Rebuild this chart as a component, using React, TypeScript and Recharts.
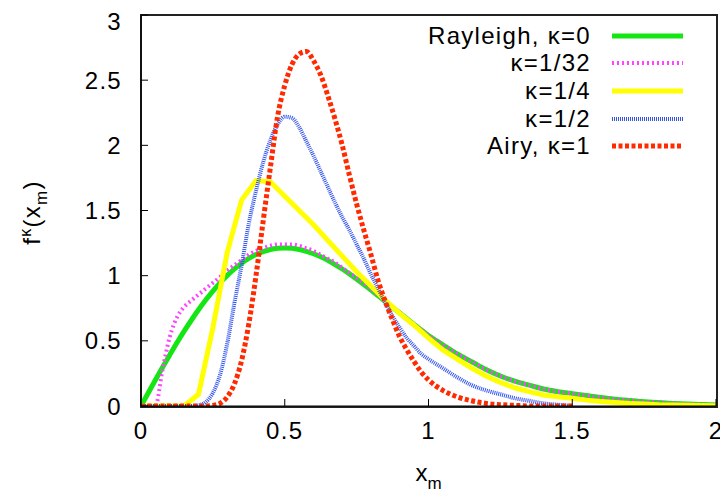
import React from 'react';
import { LineChart, Line, XAxis, YAxis, Label } from 'recharts';

// x grid for the smooth curves: 0.025 steps up to 1, then 0.05 steps
const xFine = [
  0, 0.025, 0.05, 0.075, 0.1, 0.125, 0.15, 0.175, 0.2, 0.225, 0.25, 0.275, 0.3, 0.325, 0.35, 0.375,
  0.4, 0.425, 0.45, 0.475, 0.5, 0.525, 0.55, 0.575, 0.6, 0.625, 0.65, 0.675, 0.7, 0.725, 0.75, 0.775,
  0.8, 0.825, 0.85, 0.875, 0.9, 0.925, 0.95, 0.975, 1.0,
  1.05, 1.1, 1.15, 1.2, 1.25, 1.3, 1.35, 1.4, 1.45, 1.5, 1.55, 1.6, 1.65, 1.7, 1.75, 1.8, 1.85, 1.9, 1.95, 2.0,
];

// coarse grid of the kappa=1/4 curve (piecewise straight in the figure)
const xCoarse = [
  0, 0.05, 0.1, 0.15, 0.2, 0.25, 0.3, 0.35, 0.4, 0.45, 0.5, 0.55, 0.6, 0.65, 0.7, 0.75, 0.8, 0.85, 0.9, 0.95,
  1.0, 1.05, 1.1, 1.15, 1.2, 1.25, 1.3, 1.35, 1.4, 1.45, 1.5, 1.55, 1.6, 1.65, 1.7, 1.75, 1.8, 1.85, 1.9, 1.95, 2.0,
];

const rayleigh = [
  0, 0.1, 0.199, 0.297, 0.392, 0.485, 0.574, 0.658, 0.738, 0.813, 0.882, 0.945, 1.002, 1.052, 1.096, 1.132,
  1.162, 1.185, 1.201, 1.21, 1.213, 1.21, 1.201, 1.187, 1.168, 1.145, 1.117, 1.085, 1.051, 1.014, 0.974, 0.933,
  0.89, 0.845, 0.801, 0.757, 0.713, 0.669, 0.625, 0.583, 0.541,
  0.47, 0.4, 0.34, 0.28, 0.23, 0.19, 0.16, 0.13, 0.11, 0.095, 0.08, 0.065, 0.052, 0.042, 0.033, 0.026, 0.02, 0.015, 0.011, 0.008,
];

const kappa32 = [
  0, 0, 0, 0.28, 0.53, 0.68, 0.76, 0.81, 0.855, 0.9, 0.945, 0.99, 1.04, 1.08, 1.12, 1.16,
  1.19, 1.21, 1.23, 1.24, 1.24, 1.24, 1.23, 1.21, 1.19, 1.16, 1.13, 1.1, 1.06, 1.02, 0.98, 0.94,
  0.895, 0.85, 0.805, 0.76, 0.715, 0.67, 0.627, 0.585, 0.543,
  0.47, 0.4, 0.34, 0.28, 0.23, 0.19, 0.16, 0.13, 0.11, 0.095, 0.08, 0.065, 0.052, 0.042, 0.033, 0.026, 0.02, 0.015, 0.011, 0.008,
];

const kappa4 = [
  0, 0, 0, 0, 0.09, 0.6, 1.18, 1.58, 1.73, 1.72, 1.61, 1.5, 1.39, 1.27, 1.15, 1.03, 0.92, 0.81, 0.71, 0.62,
  0.52, 0.43, 0.36, 0.29, 0.23, 0.18, 0.14, 0.11, 0.085, 0.07, 0.06, 0.045, 0.035, 0.027, 0.02, 0.015, 0.01, 0.008, 0.005, 0.003, 0.002,
];

// kappa=1/2 and Airy stop at x=1.5
const kappa2 = [
  0, 0, 0, 0, 0, 0, 0, 0, 0.005, 0.03, 0.1, 0.24, 0.48, 0.79, 1.08, 1.4,
  1.65, 1.87, 2.04, 2.16, 2.22, 2.21, 2.14, 2.03, 1.92, 1.8, 1.68, 1.56, 1.45, 1.35, 1.24, 1.13,
  1.01, 0.9, 0.79, 0.69, 0.6, 0.52, 0.46, 0.4, 0.36,
  0.29, 0.22, 0.16, 0.12, 0.09, 0.06, 0.04, 0.02, 0.01, 0,
];

const airy = [
  0, 0, 0, 0, 0, 0, 0, 0, 0, 0, 0.005, 0.02, 0.07, 0.17, 0.35, 0.63,
  1.0, 1.42, 1.83, 2.22, 2.46, 2.62, 2.7, 2.72, 2.65, 2.54, 2.38, 2.2, 2.0, 1.77, 1.55, 1.35,
  1.16, 0.96, 0.8, 0.66, 0.53, 0.43, 0.34, 0.26, 0.2,
  0.12, 0.07, 0.04, 0.02, 0.01, 0.005, 0, 0, 0, 0,
];

const xTicks = [0, 0.5, 1, 1.5, 2];
const yTicks = [0, 0.5, 1, 1.5, 2, 2.5, 3];

const FONT = '"Liberation Sans", Arial, Helvetica, sans-serif';
const SPACING = 1.3;

const toPoints = (xs: number[], ys: number[]) => ys.map((y, i) => ({ x: xs[i], y }));

const series = [
  { key: 'rayleigh', name: 'Rayleigh, κ=0', xs: xFine, ys: rayleigh, color: '#14e614', width: 5, dash: undefined, curve: 'monotone' },
  { key: 'k32', name: 'κ=1/32', xs: xFine, ys: kappa32, color: '#ff44ff', width: 4, dash: '2 3', curve: 'monotone' },
  { key: 'k4', name: 'κ=1/4', xs: xCoarse, ys: kappa4, color: '#ffff00', width: 5, dash: undefined, curve: 'linear' },
  { key: 'k2', name: 'κ=1/2', xs: xFine, ys: kappa2, color: '#3355ee', width: 4, dash: '1 1', curve: 'monotone' },
  { key: 'airy', name: 'Airy, κ=1', xs: xFine, ys: airy, color: '#ff2a00', width: 5, dash: '4 2.5', curve: 'monotone' },
];

const YLabel = (props: any) => {
  const vb = props.viewBox;
  const x0 = vb.x + 32;
  const y0 = vb.y + vb.height / 2 + 2;
  return (
    <text x={x0} y={y0} transform={`rotate(-90 ${x0} ${y0})`} textAnchor="middle" fontFamily={FONT} fontSize={24} letterSpacing={SPACING} fill="#000">
      <tspan>f</tspan>
      <tspan dy={-9} fontSize={16}>κ</tspan>
      <tspan dy={9}>(x</tspan>
      <tspan dy={7} fontSize={17}>m</tspan>
      <tspan dy={-7}>)</tspan>
    </text>
  );
};

const XLabel = (props: any) => {
  const vb = props.viewBox;
  const cx = vb.x + vb.width / 2;
  const by = vb.y + 75;
  return (
    <text x={cx} y={by} textAnchor="middle" fontFamily={FONT} fontSize={24} fill="#000">
      <tspan>x</tspan>
      <tspan dy={8} fontSize={17}>m</tspan>
    </text>
  );
};

const tickStyle = { fill: '#000', fontSize: 24, fontFamily: FONT, letterSpacing: SPACING };

const App: React.FC = () => {
  return (
    <div style={{ position: 'relative', width: 720, height: 490, fontFamily: FONT }}>
      {/* plot frame, under the curves */}
      <div
        style={{
          position: 'absolute',
          left: 132,
          top: 6,
          width: 578,
          height: 394,
          border: '2px solid #222',
          boxSizing: 'border-box',
          pointerEvents: 'none',
        }}
      />

      <LineChart width={720} height={490} margin={{ top: 7, right: 12, bottom: 0, left: 0 }}>
        <XAxis
          xAxisId={0}
          type="number"
          dataKey="x"
          domain={[0, 2]}
          ticks={xTicks}
          height={92}
          stroke="#000"
          tickSize={-7}
          tickMargin={23}
          tick={tickStyle}
          allowDataOverflow
        >
          <Label content={XLabel} />
        </XAxis>
        <XAxis
          xAxisId="top"
          orientation="top"
          type="number"
          dataKey="x"
          domain={[0, 2]}
          ticks={xTicks}
          height={0}
          stroke="#000"
          tickSize={-7}
          tickFormatter={() => ''}
          allowDataOverflow
        />
        <YAxis
          yAxisId={0}
          type="number"
          domain={[0, 3]}
          ticks={yTicks}
          width={133}
          stroke="#000"
          tickSize={-7}
          tickMargin={26}
          tick={tickStyle}
          allowDataOverflow
        >
          <Label content={YLabel} />
        </YAxis>
        <YAxis
          yAxisId="right"
          orientation="right"
          type="number"
          domain={[0, 3]}
          ticks={yTicks}
          width={0}
          stroke="#000"
          tickSize={-7}
          tickFormatter={() => ''}
          allowDataOverflow
        />
        {series.map((s) => (
          <Line
            key={s.key}
            data={toPoints(s.xs, s.ys)}
            dataKey="y"
            name={s.name}
            type={s.curve as any}
            stroke={s.color}
            strokeWidth={s.width}
            strokeDasharray={s.dash}
            dot={false}
            activeDot={false}
            isAnimationActive={false}
          />
        ))}
      </LineChart>

      {/* legend, gnuplot style: labels right-aligned, sample on the right */}
      <div style={{ position: 'absolute', left: 385, top: 14, fontSize: 24, letterSpacing: SPACING, color: '#000' }}>
        {series.map((s) => (
          <div key={s.key} style={{ display: 'flex', alignItems: 'center', height: 27.6 }}>
            <span style={{ width: 198, textAlign: 'right', whiteSpace: 'nowrap' }}>{s.name}</span>
            <svg width={71} height={10} style={{ marginLeft: 21 }}>
              <line x1={0} y1={5} x2={71} y2={5} stroke={s.color} strokeWidth={s.width} strokeDasharray={s.dash} />
            </svg>
          </div>
        ))}
      </div>
    </div>
  );
};

export default App;
